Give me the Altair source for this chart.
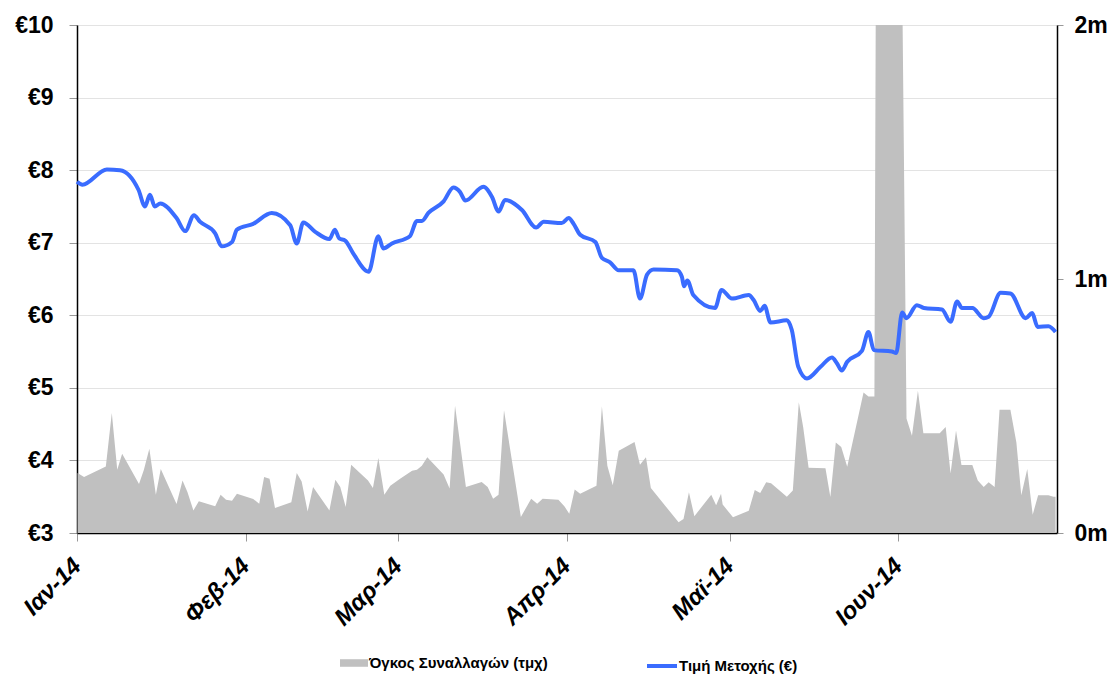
import altair as alt
import pandas as pd

# ---- data ----
month_labels = ["Ιαν-14", "Φεβ-14", "Μαρ-14", "Απρ-14", "Μαϊ-14", "Ιουν-14"]
price_label = "Τιμή Μετοχής (€)"
volume_label = "Όγκος Συναλλαγών (τμχ)"

# days after 1 Jan 2014
price_day = [0.0, 1.0, 5.5, 7.9, 11.3, 12.5, 13.4, 14.3, 15.3, 18.3, 19.9, 21.5, 22.6, 25.4,
             26.6, 28.5, 29.4, 32.4, 35.8, 39.2, 40.4, 41.6, 43.8, 46.4, 47.4, 48.2, 49.3,
             50.8, 53.6, 55.4, 56.3, 57.9, 61.2, 62.5, 63.4, 64.6, 67.4, 69.2, 70.4, 71.4,
             74.7, 76.3, 77.5, 78.7, 81.8, 84.4, 85.8, 89.1, 90.4, 91.3, 92.5, 95.3, 96.5,
             98.0, 99.6, 102.3, 103.5, 104.8, 106.0, 110.3, 111.2, 111.6, 112.2, 113.3,
             117.3, 118.5, 120.4, 123.5, 124.4, 125.6, 126.4, 127.5, 130.5, 131.4, 132.6,
             134.2, 136.7, 138.8, 139.7, 140.6, 141.6, 144.3, 145.5, 146.5, 149.8, 150.6,
             151.7, 152.5, 154.4, 155.7, 159.0, 160.6, 161.8, 162.7, 164.6, 166.7, 167.6,
             169.8, 171.6, 174.4, 175.6, 176.6, 178.6, 179.9]
price = [7.84, 7.80, 8.01, 8.00, 7.73, 7.50, 7.66, 7.50, 7.54, 7.34, 7.16, 7.38, 7.29, 7.13,
         6.95, 7.01, 7.18, 7.26, 7.41, 7.24, 6.99, 7.28, 7.15, 7.05, 7.18, 7.06, 7.03,
         6.85, 6.60, 7.09, 6.92, 6.99, 7.09, 7.30, 7.30, 7.41, 7.57, 7.76, 7.70, 7.58,
         7.77, 7.63, 7.43, 7.59, 7.45, 7.21, 7.29, 7.27, 7.34, 7.26, 7.11, 7.01, 6.79,
         6.73, 6.62, 6.62, 6.23, 6.56, 6.63, 6.62, 6.53, 6.40, 6.48, 6.28,
         6.10, 6.35, 6.23, 6.28, 6.21, 6.06, 6.13, 5.90, 5.93, 5.80, 5.29,
         5.13, 5.29, 5.42, 5.34, 5.24, 5.36, 5.51, 5.77, 5.52, 5.50, 5.48,
         6.04, 5.96, 6.14, 6.10, 6.08, 5.91, 6.19, 6.10, 6.10, 5.96, 5.98,
         6.31, 6.30, 5.96, 6.03, 5.84, 5.85, 5.77]

volume_day = [0.1, 1.3, 5.3, 6.4, 7.4, 8.3, 11.4, 12.3, 13.3, 14.5, 15.4, 18.3, 19.4, 20.3,
              21.4, 22.4, 25.4, 26.4, 27.4, 28.5, 29.4, 32.4, 33.5, 34.4, 35.4, 36.4, 39.4,
              40.4, 41.3, 42.4, 43.4, 46.4, 47.5, 48.4, 49.4, 50.4, 53.5, 54.4, 55.4, 56.5,
              57.6, 59.4, 61.6, 62.5, 63.4, 64.4, 67.4, 68.5, 69.5, 71.5, 74.4, 75.5, 76.5,
              77.5, 78.5, 81.6, 83.5, 84.6, 85.6, 88.5, 89.6, 90.5, 91.5, 92.5, 95.5, 96.5,
              97.5, 98.5, 99.6, 102.5, 103.5, 104.6, 105.5, 110.6, 111.5, 112.5, 113.5,
              116.6, 117.5, 118.4, 118.7, 120.6, 123.5, 124.6, 125.6, 126.7, 127.6, 130.5,
              131.6, 132.7, 133.5, 134.5, 137.6, 138.5, 139.5, 140.5, 141.6, 144.6, 145.5,
              146.6, 146.9, 151.6, 152.5, 153.5, 154.6, 155.6, 158.6, 159.7, 160.6, 161.6,
              162.6, 164.6, 165.6, 166.7, 167.6, 168.7, 169.6, 171.6, 172.7, 173.6, 174.7,
              175.7, 176.7, 178.6, 179.5, 179.9]
# volume in millions of shares
volume_m = [0.236, 0.220, 0.262, 0.472, 0.249, 0.312, 0.193, 0.249, 0.332, 0.151, 0.252, 0.114,
            0.207, 0.161, 0.089, 0.125, 0.105, 0.151, 0.131, 0.127, 0.155, 0.134, 0.115, 0.220,
            0.214, 0.098, 0.121, 0.236, 0.203, 0.085, 0.181, 0.089, 0.210, 0.181, 0.102, 0.269,
            0.207, 0.177, 0.295, 0.151, 0.186, 0.214, 0.245, 0.249, 0.265, 0.298, 0.230, 0.175,
            0.501, 0.181, 0.201, 0.181, 0.135, 0.151, 0.483, 0.063, 0.135, 0.115, 0.135, 0.131,
            0.105, 0.076, 0.171, 0.155, 0.186, 0.499, 0.265, 0.188, 0.324, 0.358, 0.269, 0.298,
            0.177, 0.042, 0.055, 0.160, 0.066, 0.151, 0.109, 0.155, 0.112, 0.062, 0.088, 0.169,
            0.157, 0.200, 0.196, 0.143, 0.167, 0.515, 0.417, 0.257, 0.255, 0.142, 0.356, 0.339,
            0.261, 0.553, 0.537, 0.537, 2.4, 2.4, 0.451, 0.383, 0.560, 0.393, 0.393, 0.417,
            0.234, 0.404, 0.268, 0.268, 0.207, 0.181, 0.200, 0.181, 0.485, 0.485, 0.356, 0.149,
            0.252, 0.072, 0.149, 0.149, 0.143, 0.143]

start = pd.Timestamp("2014-01-01")
price_df = pd.DataFrame({
    "date": start + pd.to_timedelta(price_day, unit="D"),
    "price": price,
    "series": price_label,
})
volume_df = pd.DataFrame({
    "date": start + pd.to_timedelta(volume_day, unit="D"),
    "vol": volume_m,
    "series": volume_label,
})

FONT = "Liberation Sans"
label_expr_x = "[" + ",".join(f"'{m}'" for m in month_labels) + "][month(datum.value)]"

x_enc = alt.X(
    "date:T",
    scale=alt.Scale(domain=[alt.DateTime(year=2014, month=1, date=1),
                            alt.DateTime(year=2014, month=6, date=30, hours=4)]),
    axis=alt.Axis(
        values=[alt.DateTime(year=2014, month=m, date=1) for m in range(1, 7)],
        labelExpr=label_expr_x,
        labelAngle=-45,
        labelAlign="right",
        labelBaseline="middle",
        labelFlush=False,
        labelOverlap=False,
        labelBound=False,
        labelPadding=21,
        labelFont=FONT,
        labelFontSize=24,
        labelFontWeight="bold",
        labelFontStyle="italic",
        labelColor="black",
        grid=False,
        domainColor="black",
        domainWidth=1.5,
        tickColor="#999999",
        tickSize=8,
        title=None,
    ),
)

area = alt.Chart(volume_df).mark_area(clip=True, opacity=1, interpolate="linear").encode(
    x=x_enc,
    y=alt.Y(
        "vol:Q",
        scale=alt.Scale(domain=[0, 2], nice=False, zero=True),
        axis=alt.Axis(
            orient="right", values=[0, 1, 2], labelExpr="datum.value + 'm'",
            grid=False, domainColor="black", domainWidth=1.5,
            tickColor="#999999", tickSize=6, labelPadding=11,
            labelFont=FONT, labelFontSize=23, labelFontWeight="bold", labelColor="black",
            title=None,
        ),
    ),
    color=alt.Color(
        "series:N",
        scale=alt.Scale(domain=[volume_label], range=["#c0c0c0"]),
        legend=alt.Legend(
            orient="none", legendX=263, legendY=624, title=None,
            symbolType="M-1,-0.27H1V0.27H-1Z", symbolSize=784, symbolStrokeWidth=0,
            labelOffset=1, labelFont=FONT, labelFontSize=15, labelFontWeight="bold",
            labelColor="black", labelLimit=0,
        ),
    ),
)

line = alt.Chart(price_df).mark_line(interpolate="monotone", strokeWidth=4).encode(
    x=x_enc,
    y=alt.Y(
        "price:Q",
        scale=alt.Scale(domain=[3, 10], nice=False, zero=False),
        axis=alt.Axis(
            orient="left", values=list(range(3, 11)), labelExpr="'€' + datum.value",
            grid=True, gridColor="#e3e3e3", gridWidth=1,
            domainColor="black", domainWidth=1.5,
            tickColor="#999999", tickSize=8, labelPadding=16,
            labelFont=FONT, labelFontSize=23, labelFontWeight="bold", labelColor="black",
            title=None,
        ),
    ),
    color=alt.Color(
        "series:N",
        scale=alt.Scale(domain=[price_label], range=["#3a6cff"]),
        legend=alt.Legend(
            orient="none", legendX=568, legendY=624, title=None,
            symbolType="stroke", symbolSize=900, symbolStrokeWidth=4,
            labelOffset=0, labelFont=FONT, labelFontSize=15, labelFontWeight="bold",
            labelColor="black", labelLimit=0,
        ),
    ),
)

chart = alt.layer(area, line).resolve_scale(
    y="independent", color="independent"
).properties(
    width=980,
    height=508,
    autosize=alt.AutoSizeParams(type="none"),
    padding={"left": 69, "top": 17, "right": 51, "bottom": 141},
).configure_view(stroke=None)

chart.save("out.html", embed_options={"renderer": "svg", "actions": False})
